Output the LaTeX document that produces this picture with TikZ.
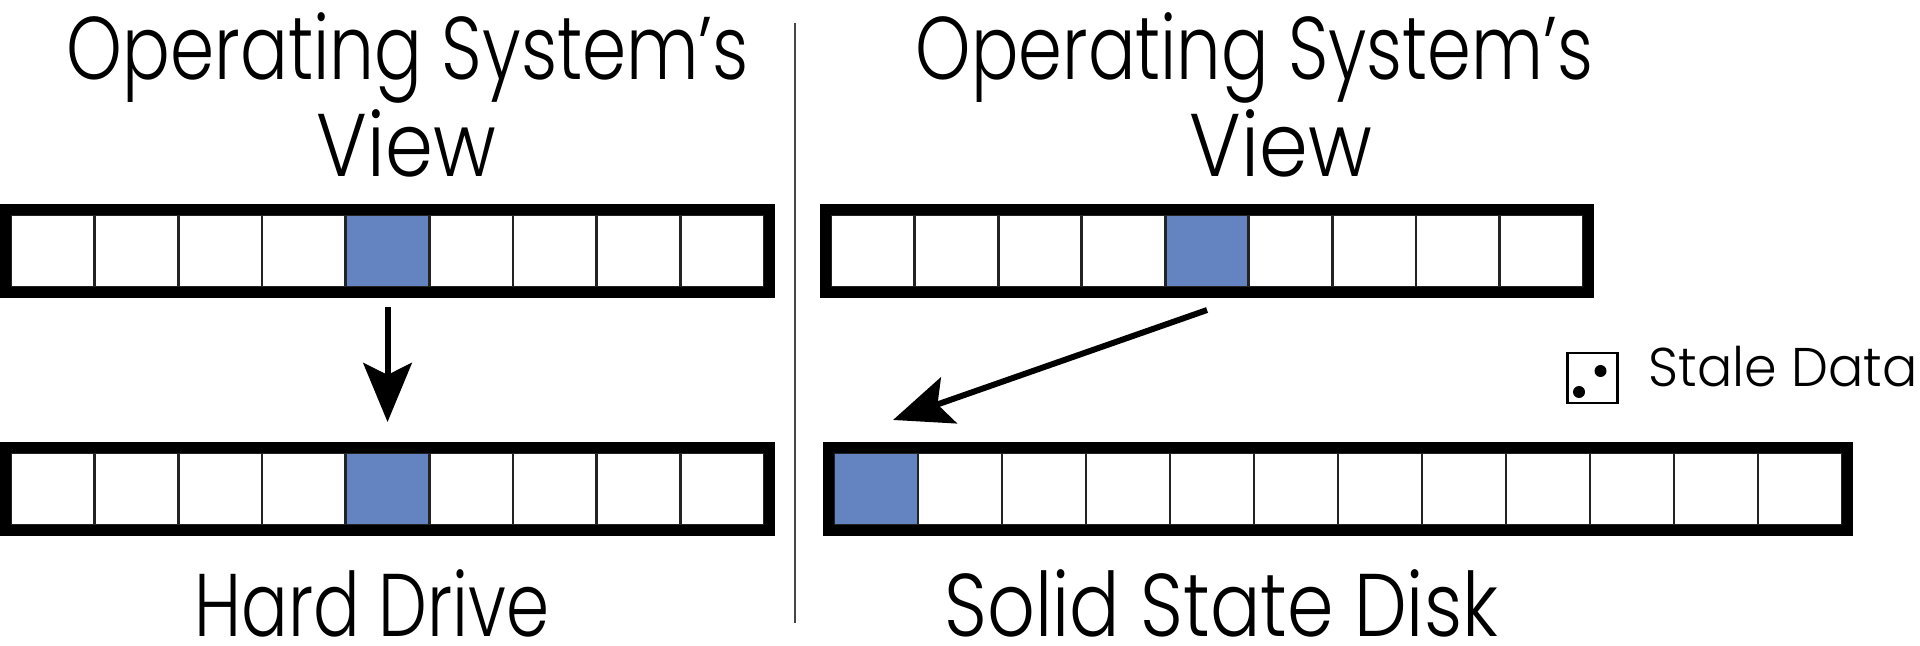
\documentclass[tikz,border=0pt]{standalone}
\usepackage{fontspec}
\usepackage{graphicx}
\setmainfont{Poppins}[UprightFont={* Light}]
\usetikzlibrary{arrows.meta,fit,calc}
\definecolor{ssdblue}{RGB}{99,131,193}
\definecolor{cellrule}{RGB}{35,35,35}
\definecolor{rulegray}{RGB}{70,70,70}

\begin{document}
\begin{tikzpicture}[x=0.01cm,y=-0.01cm,
  cell/.style={draw=cellrule, line width=0.8pt, fill=white,
    minimum height=20.49pt, inner sep=0pt, outer sep=0pt, anchor=west},
  frame/.style={draw=black, line width=3.13pt, inner sep=1.56pt},
  heading/.style={font=\fontsize{25.3}{30}\selectfont, anchor=base, inner sep=0pt},
  legend/.style={font=\fontsize{15.5}{18}\selectfont, anchor=base west, inner sep=0pt},
  move/.style={line width=1.7pt,
    -{Stealth[length=16.8pt, width=13.8pt, inset=3.4pt]}},
  divider/.style={draw=rulegray, line width=0.7pt},
  staleicon/.style={draw=black, line width=0.75pt, minimum size=14.2pt,
    inner sep=0pt, outer sep=0pt},
]
\useasboundingbox (0,0) rectangle (1920,646);

% operating system's view above the hard drive
\foreach \i in {1,...,9}{
  \ifnum\i=5 \def\cf{ssdblue}\else\def\cf{white}\fi
  \node[cell, fill=\cf, minimum width=23.81pt] (L1c\i) at ({11+(\i-1)*83.67},251) {};
}
\node[frame, fit=(L1c1)(L1c9)] (L1) {};

% hard drive blocks
\foreach \i in {1,...,9}{
  \ifnum\i=5 \def\cf{ssdblue}\else\def\cf{white}\fi
  \node[cell, fill=\cf, minimum width=23.81pt] (L2c\i) at ({11+(\i-1)*83.67},489) {};
}
\node[frame, fit=(L2c1)(L2c9)] (L2) {};

% operating system's view above the solid state disk
\foreach \i in {1,...,9}{
  \ifnum\i=5 \def\cf{ssdblue}\else\def\cf{white}\fi
  \node[cell, fill=\cf, minimum width=23.78pt] (R1c\i) at ({831+(\i-1)*83.56},251) {};
}
\node[frame, fit=(R1c1)(R1c9)] (R1) {};

% solid state disk pages
\foreach \i in {1,...,12}{
  \ifnum\i=1 \def\cf{ssdblue}\else\def\cf{white}\fi
  \node[cell, fill=\cf, minimum width=23.90pt] (R2c\i) at ({834+(\i-1)*84},489) {};
}
\node[frame, fit=(R2c1)(R2c12)] (R2) {};

% writes
\draw[move, shorten <=5.7pt, shorten >=8.8pt] (L1c5.south) -- (L2c5.north);
\coordinate (moveFrom) at ($(R1c5.south)+(0,23)$);
\coordinate (moveTo) at ($(R2c1.north)+(17,-33)$);
\draw[move] (moveFrom) -- (moveTo);

% separator
\coordinate (sepTop) at (795,23);
\coordinate (sepBot) at (795,623);
\draw[divider] (sepTop) -- (sepBot);

% headings
\node[heading] (osL1) at (408,80) {\resizebox{194pt}{\height}{Operating System's}};
\node[heading] (osL2) at (406.5,177) {\resizebox{50.9pt}{\height}{View}};
\node[heading] (osR1) at (1254.5,80) {\resizebox{192.6pt}{\height}{Operating System's}};
\node[heading] (osR2) at (1281,177) {\resizebox{51.8pt}{\height}{View}};
\node[heading] (hdd) at (372,637) {\resizebox{101pt}{\height}{Hard Drive}};
\node[heading] (ssd) at (1221.5,637) {\resizebox{157.3pt}{\height}{Solid State Disk}};

% legend
\node[staleicon] (stale) at (1592.5,378) {};
\fill ($(stale.center)+(8,-7)$) circle (6);
\fill ($(stale.center)+(-13.5,14)$) circle (6);
\node[legend] (staleText) at (1648,387) {\resizebox{76.5pt}{\height}{Stale Data}};
\end{tikzpicture}
\end{document}
